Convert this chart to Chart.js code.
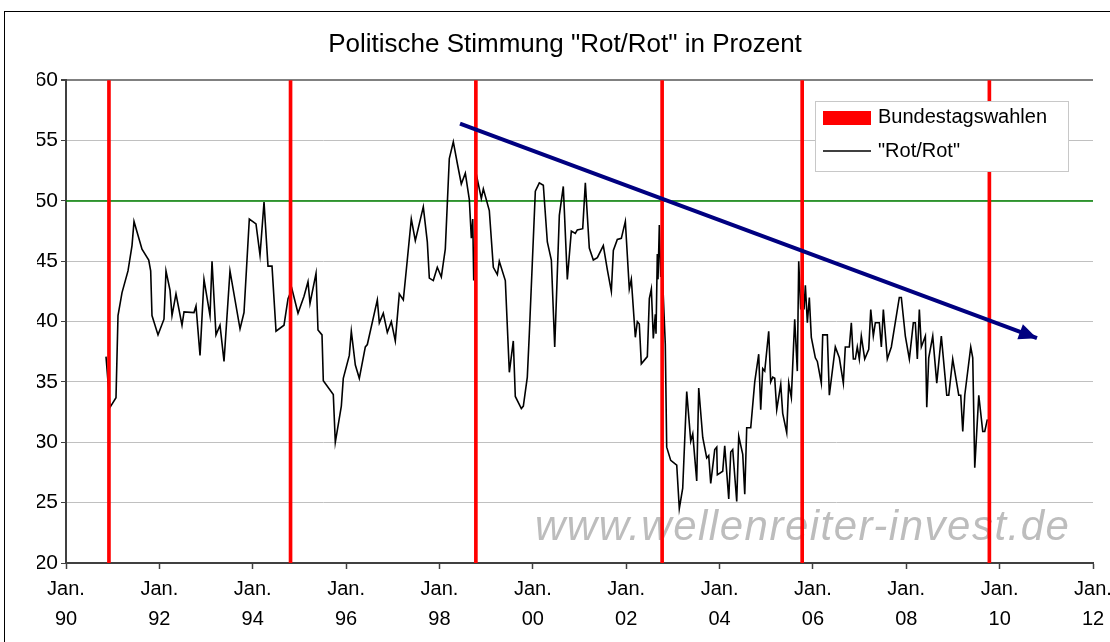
<!DOCTYPE html>
<html><head><meta charset="utf-8">
<script src="https://cdn.jsdelivr.net/npm/chart.js@4/dist/chart.umd.min.js"></script>
<style>html,body{margin:0;padding:0;background:#fff;overflow:hidden}</style>
</head><body>
<canvas id="c" width="1110" height="642"></canvas>
<script>
const titleText = 'Politische Stimmung "Rot/Rot" in Prozent';
const watermarkText = 'www.wellenreiter-invest.de';
const seriesLabel = '"Rot/Rot"';
const electionLabel = 'Bundestagswahlen';

const dates = [
1990.857,1990.943,1991.071,1991.114,1991.200,1991.328,1991.414,1991.457,1991.628,1991.772,1991.814,1991.842,1991.971,
1992.099,1992.142,1992.228,1992.271,1992.356,1992.485,1992.528,1992.742,1992.785,1992.871,1992.956,
1993.085,1993.128,1993.213,1993.299,1993.385,1993.513,1993.728,1993.813,1993.927,
1994.070,1994.156,1994.242,1994.327,1994.413,1994.499,1994.670,1994.756,1994.841,1994.970,
1995.099,1995.184,1995.227,1995.356,1995.398,1995.484,1995.512,1995.726,1995.769,1995.898,1995.940,
1996.069,1996.112,1996.198,1996.283,1996.412,1996.455,1996.669,1996.712,1996.797,1996.883,1996.969,
1997.054,1997.140,1997.226,1997.311,1997.397,1997.483,1997.654,1997.740,1997.783,1997.868,1997.954,
1998.040,1998.125,1998.211,1998.297,1998.383,1998.468,1998.554,1998.640,1998.683,1998.713,1998.734,1998.811,1998.897,1998.940,
1999.068,1999.154,1999.240,1999.282,1999.411,1999.497,1999.582,1999.625,1999.754,1999.797,1999.882,1999.925,
2000.054,2000.139,2000.225,2000.311,2000.397,2000.469,2000.568,2000.653,2000.739,2000.825,2000.910,2000.953,
2001.069,2001.125,2001.210,2001.296,2001.382,2001.510,2001.596,2001.682,2001.725,2001.810,2001.896,2001.982,
2002.067,2002.110,2002.196,2002.239,2002.281,2002.324,2002.453,2002.496,2002.539,2002.581,2002.624,2002.639,2002.667,2002.682,2002.710,2002.740,2002.761,2002.838,2002.868,2002.954,
2003.083,2003.138,2003.211,2003.297,2003.383,2003.426,2003.511,2003.554,2003.640,2003.725,2003.768,2003.811,2003.897,2003.940,2003.953,
2004.068,2004.111,2004.197,2004.240,2004.282,2004.368,2004.411,2004.497,2004.540,2004.582,2004.668,2004.754,2004.839,2004.882,2004.925,2004.968,
2005.053,2005.096,2005.139,2005.182,2005.225,2005.311,2005.353,2005.439,2005.482,2005.538,2005.610,2005.666,2005.696,2005.739,2005.782,2005.810,2005.838,2005.881,2005.923,2005.966,
2006.052,2006.095,2006.180,2006.210,2006.309,2006.352,2006.480,2006.566,2006.652,2006.694,2006.780,2006.823,2006.866,2006.909,2006.951,2006.994,
2007.037,2007.110,2007.196,2007.239,2007.294,2007.337,2007.423,2007.466,2007.509,2007.594,2007.680,2007.851,2007.894,2007.980,
2008.066,2008.151,2008.194,2008.237,2008.280,2008.323,2008.409,2008.439,2008.481,2008.567,2008.653,2008.751,2008.867,2008.910,2008.995,
2009.124,2009.167,2009.210,2009.253,2009.381,2009.424,2009.467,2009.553,2009.638,2009.681,2009.737
];
const values = [
37.1,32.9,33.7,40.5,42.4,44.2,46.3,48.3,46.0,45.1,44.2,40.5,38.9,
40.2,44.2,42.6,40.5,42.3,39.7,40.8,40.75,41.3,37.2,43.5,
40.5,45.0,38.9,39.7,36.7,44.2,39.4,40.75,48.5,
48.1,45.5,49.9,44.6,44.6,39.2,39.7,41.9,42.7,40.7,
42.1,43.3,41.5,44.0,39.3,38.9,35.1,33.95,30.0,33.0,35.3,
37.2,39.2,36.4,35.3,37.9,38.1,41.8,39.9,40.7,39.1,40.0,
38.4,42.3,41.8,45.1,48.5,46.7,49.5,46.6,43.6,43.4,44.5,
43.7,46.0,53.5,54.9,53.1,51.4,52.3,50.1,46.9,48.5,43.4,51.8,50.2,51.0,
49.2,44.5,43.9,45.0,43.4,35.8,38.4,33.8,32.8,33.0,35.4,39.0,
50.8,51.5,51.3,46.6,45.1,37.9,48.8,51.2,43.5,47.5,47.3,47.6,
47.7,51.5,46.1,45.1,45.3,46.3,44.3,42.5,45.9,46.8,46.9,48.3,
42.7,43.5,38.7,40.0,39.8,36.5,37.1,41.9,42.7,38.6,40.6,39.0,45.6,43.5,48.0,43.7,45.3,38.1,29.6,28.5,
28.1,24.5,26.2,34.2,30.1,30.7,26.8,34.5,30.4,28.7,28.9,26.6,29.4,29.6,27.3,
27.6,29.7,25.3,29.2,29.4,25.1,30.5,29.0,25.7,31.2,31.2,35.0,37.3,32.7,36.1,35.9,
39.2,35.0,35.4,35.3,32.7,34.8,32.4,30.8,34.9,33.7,40.2,35.9,45.0,41.0,43.0,41.0,43.0,39.9,42.0,38.7,
37.0,36.7,34.9,38.9,38.9,33.9,37.9,37.0,34.9,37.9,37.9,39.9,36.9,36.9,37.9,36.9,
38.8,36.9,37.7,41.0,38.8,39.9,39.9,37.9,41.0,36.9,37.9,42.0,42.0,38.8,
36.9,39.9,39.9,36.9,41.0,37.9,38.8,32.9,37.0,38.8,34.9,38.8,33.9,33.9,36.9,
33.9,33.9,30.9,33.9,37.9,37.0,27.9,33.9,30.9,30.9,31.9
];
const electionDates = [1990.92, 1994.81, 1998.78, 2002.77, 2005.77, 2009.78];
const electionValues = [60, 60, 60, 60, 60, 60];
const trendX = [1998.44, 2010.80];
const trendY = [56.40, 38.63];
const refLineX = [1990, 2012];
const refLineY = [50, 50];
const xTickYears = [1990,1992,1994,1996,1998,2000,2002,2004,2006,2008,2010,2012];
const xTickLabels = ['90','92','94','96','98','00','02','04','06','08','10','12'];
const yTicks = [20,25,30,35,40,45,50,55,60];

const FONT = '"Liberation Sans", Arial, sans-serif';
Chart.defaults.font.family = FONT;
Chart.defaults.color = '#000';

const framePlugin = {
  id: 'frame',
  beforeDraw(chart) {
    const ctx = chart.ctx;
    ctx.save();
    ctx.fillStyle = '#fff';
    ctx.fillRect(0, 0, chart.width, chart.height);
    ctx.strokeStyle = '#000';
    ctx.lineWidth = 1;
    ctx.strokeRect(4.5, 11.5, 1300, 900);
    ctx.restore();
  }
};

const watermarkPlugin = {
  id: 'watermark',
  beforeDatasetsDraw(chart) {
    const ctx = chart.ctx;
    ctx.save();
    ctx.font = 'italic 42px ' + FONT;
    try { ctx.letterSpacing = '1.5px'; } catch (e) {}
    ctx.fillStyle = '#bdbdbd';
    ctx.textAlign = 'left';
    ctx.textBaseline = 'alphabetic';
    ctx.fillText(watermarkText, 535, 540);
    ctx.restore();
  }
};

const arrowPlugin = {
  id: 'arrowHead',
  afterDatasetsDraw(chart) {
    const meta = chart.getDatasetMeta(3);
    const pts = meta.data;
    if (!pts || pts.length < 2) return;
    const a = pts[pts.length - 2], b = pts[pts.length - 1];
    const ang = Math.atan2(b.y - a.y, b.x - a.x);
    const L = 18, W = 8;
    const ctx = chart.ctx;
    ctx.save();
    ctx.fillStyle = chart.data.datasets[3].borderColor;
    ctx.beginPath();
    ctx.moveTo(b.x, b.y);
    ctx.lineTo(b.x - L * Math.cos(ang) + W * Math.sin(ang), b.y - L * Math.sin(ang) - W * Math.cos(ang));
    ctx.lineTo(b.x - L * Math.cos(ang) - W * Math.sin(ang), b.y - L * Math.sin(ang) + W * Math.cos(ang));
    ctx.closePath();
    ctx.fill();
    ctx.restore();
  }
};

const legendPlugin = {
  id: 'boxLegend',
  afterDraw(chart) {
    const ctx = chart.ctx;
    const ds = chart.data.datasets;
    ctx.save();
    ctx.fillStyle = '#fff';
    ctx.fillRect(815, 101, 253, 71);
    ctx.strokeStyle = '#c8c8c8';
    ctx.lineWidth = 1;
    ctx.strokeRect(815.5, 101.5, 253, 70);
    ctx.fillStyle = ds[2].backgroundColor;
    ctx.fillRect(823, 111, 48, 14);
    ctx.strokeStyle = ds[1].borderColor;
    ctx.lineWidth = 1.5;
    ctx.beginPath();
    ctx.moveTo(823, 151); ctx.lineTo(871, 151);
    ctx.stroke();
    ctx.fillStyle = '#000';
    ctx.font = '20px ' + FONT;
    ctx.textBaseline = 'middle';
    ctx.textAlign = 'left';
    ctx.fillText(ds[2].label, 878, 117);
    ctx.fillText(ds[1].label, 878, 151);
    ctx.restore();
  }
};

new Chart(document.getElementById('c'), {
  type: 'line',
  data: {
    datasets: [
      { type: 'line', label: '50', data: refLineX.map((x, i) => ({ x, y: refLineY[i] })),
        borderColor: '#008000', borderWidth: 1.5, pointRadius: 0, order: 4 },
      { type: 'line', label: seriesLabel, data: dates.map((x, i) => ({ x, y: values[i] })),
        borderColor: '#000000', borderWidth: 1.6, pointRadius: 0, tension: 0, order: 2 },
      { type: 'bar', label: electionLabel, data: electionDates.map((x, i) => ({ x, y: electionValues[i] })),
        backgroundColor: '#ff0000', barThickness: 3, order: 1 },
      { type: 'line', label: 'Trend', data: trendX.map((x, i) => ({ x, y: trendY[i] })),
        borderColor: '#000080', borderWidth: 4, pointRadius: 0, order: 0 }
    ]
  },
  options: {
    responsive: false,
    animation: false,
    events: [],
    layout: { padding: { left: 37, right: 17, top: 0, bottom: 0 } },
    plugins: {
      legend: { display: false },
      tooltip: { enabled: false },
      title: { display: true, text: titleText, color: '#000',
        font: { size: 26, weight: 'normal', family: FONT }, padding: { top: 29, bottom: 20 } }
    },
    scales: {
      x: {
        type: 'linear', min: 1990, max: 2012, offset: false,
        afterBuildTicks: s => { s.ticks = xTickYears.map(v => ({ value: v })); },
        ticks: { callback: (v, i) => ['Jan.', xTickLabels[i]], font: { size: 20, lineHeight: 1.5 },
          color: '#000', padding: 5, maxRotation: 0, autoSkip: false },
        grid: { display: true, offset: false, drawOnChartArea: false, drawTicks: true, tickLength: 6, tickColor: '#404040', tickWidth: 1.5 },
        border: { display: true, color: '#404040', width: 2 },
        afterFit: s => { s.height = 79; s.paddingLeft = 0; s.paddingRight = 0; }
      },
      y: {
        min: 20, max: 60,
        afterBuildTicks: s => { s.ticks = yTicks.map(v => ({ value: v })); },
        ticks: { font: { size: 21 }, color: '#000', padding: 3 },
        grid: {
          offset: false,
          color: c => (c.tick && c.tick.value === 60) ? '#808080' : '#c0c0c0',
          lineWidth: c => (c.tick && c.tick.value === 60) ? 2 : 1,
          tickLength: 5, tickColor: '#404040'
        },
        border: { display: true, color: '#404040', width: 2 },
        afterFit: s => { s.width = 29; }
      }
    }
  },
  plugins: [framePlugin, watermarkPlugin, arrowPlugin, legendPlugin]
});
</script>
</body></html>
